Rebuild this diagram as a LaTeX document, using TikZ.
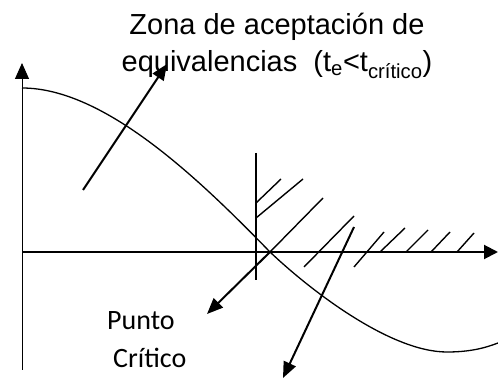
\documentclass[tikz,border=0pt]{standalone}
\usepackage{fontspec}
\setmainfont{Liberation Sans}
\newfontfamily\calib{Carlito}
\usetikzlibrary{arrows.meta}
\begin{document}
\begin{tikzpicture}[x=1pt,y=-1pt,
  axisv/.style={line width=1pt,-{Triangle[length=16pt,width=14pt]}},
  axish/.style={line width=2pt,-{Triangle[length=14pt,width=14pt]}},
  curvestyle/.style={line width=1.3pt},
  hatchline/.style={line width=1.4pt},
  critline/.style={line width=1.2pt},
  pointer/.style={line width=2pt,-{Triangle[length=16pt,width=13pt]}},
  lbl/.style={inner sep=0pt,font=\fontsize{29}{35}\selectfont},
  clbl/.style={inner sep=0pt,font=\calib\fontsize{28}{34}\selectfont}]
\useasboundingbox (0,0) rectangle (498,379);
% labels
\node[lbl,anchor=base] (zona1) at (277,35) {Zona de aceptación de};
\node[lbl,anchor=base] (zona2) at (277,72) {equivalencias\ \ (t\textsubscript{e}<t\textsubscript{crítico})};
\node[clbl,anchor=base west] (punto) at (107,330) {Punto};
\node[clbl,anchor=base west] (critico) at (113,367) {Crítico};
% axes
\coordinate (o) at (22,252);
\coordinate (ytop) at (22,63);
\coordinate (ybot) at (22,370);
\coordinate (xend) at (498,252);
\draw[line width=1pt] (o) -- (ybot);
\draw[axisv] (o) -- (ytop);
\draw[axish] (o) -- (xend);
% curve
\draw[curvestyle] (22,88) .. controls (105,88) and (200,180) .. (270,252)
  .. controls (310,290) and (390,352) .. (447,352)
  .. controls (470,352) and (485,348) .. (498,343);
% critical vertical line
\coordinate (ct) at (256,153);
\coordinate (cb) at (256,280);
\draw[critline] (ct) -- (cb);
% hatching
\draw[hatchline] (256,203) -- (281,179);
\draw[hatchline] (256,218) -- (303,179);
\coordinate (pc) at (270,252);
\draw[hatchline] (323,198) -- (pc);
\draw[hatchline] (304,267) -- (354,216);
\draw[hatchline] (354,267) -- (384,232);
\draw[hatchline] (380,252) -- (405,228);
\draw[hatchline] (406,252) -- (428,230);
\draw[hatchline] (431,252) -- (450,232);
\draw[hatchline] (457,252) -- (474,233);
% pointers
\coordinate (zs) at (83,190);
\coordinate (zt) at (167,64);
\draw[pointer] (zs) -- (zt);
\coordinate (pt) at (207,314);
\draw[pointer] (pc) -- (pt);
\coordinate (rs) at (354,227);
\coordinate (rt) at (283,378);
\draw[pointer] (rs) -- (rt);
\end{tikzpicture}
\end{document}
